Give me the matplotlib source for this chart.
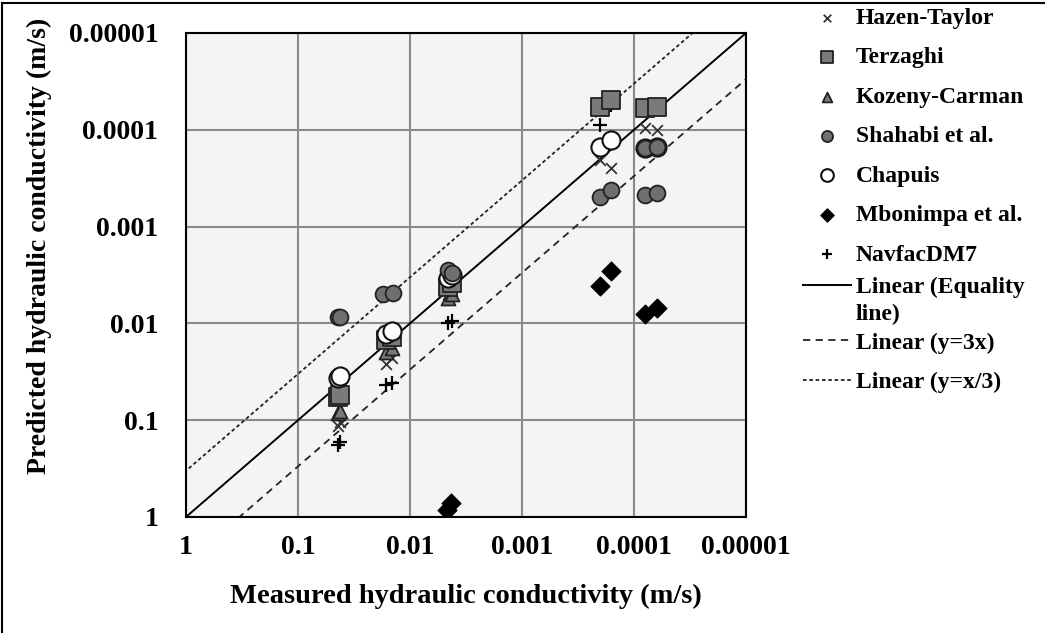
import matplotlib.pyplot as plt
from matplotlib.lines import Line2D
from matplotlib.transforms import IdentityTransform
import numpy as np

plt.rcParams['font.family'] = 'Liberation Serif'
plt.rcParams['font.weight'] = 'bold'
plt.rcParams['axes.labelweight'] = 'bold'

# measured K (m/s), two samples per soil group
measured = [0.044, 0.042, 0.0165, 0.0145, 0.0046, 0.0042, 0.0002, 0.00016, 8.0e-5, 6.3e-5]

hazen = [0.115, 0.105, 0.026, 0.023, 0.0050, 0.0046, 0.000205, 0.000248, 9.6e-5, 0.0001]
terzaghi = [0.058, 0.055, 0.0150, 0.0140, 0.0042, 0.0038, 5.8e-5, 4.9e-5, 6.0e-5, 5.8e-5]
kozeny = [0.085, 0.080, 0.020, 0.018, 0.0055, 0.0050, 6.0e-5, 5.0e-5, 6.0e-5, 5.9e-5]
chapuis = [0.0366, 0.035, 0.0128, 0.012, 0.0034, 0.0032, 0.000151, 0.000127, 0.000154, 0.00015]
navfac = [0.18, 0.17, 0.043, 0.041, 0.0099, 0.0095, 8.9e-5, 5.5e-5, 6.2e-5, 6.0e-5]

shahabi_x = [0.044, 0.042, 0.0175, 0.0142, 0.0046, 0.0042, 0.0002, 0.00016, 8.0e-5, 6.3e-5, 8.0e-5, 6.3e-5]
shahabi = [0.0086, 0.0086, 0.0050, 0.0049, 0.0028, 0.0030, 0.00049, 0.00042, 0.000154, 0.00015, 0.00047, 0.00045]

mbonimpa_x = [0.0047, 0.0043, 0.0002, 0.00016, 8.0e-5, 6.3e-5]
mbonimpa = [0.85, 0.72, 0.0041, 0.0029, 0.0080, 0.0069]

ratios = [1, 3, 1/3]
ticks = [1, 0.1, 0.01, 0.001, 0.0001, 0.00001]
tick_labels = ['1', '0.1', '0.01', '0.001', '0.0001', '0.00001']

fig = plt.figure(figsize=(10.45, 6.33), dpi=100)
ax = fig.add_axes([0.178, 0.1833, 0.536, 0.7647])
ax.set_facecolor('#f4f4f4')

xl = np.array([10, 1e-6])
ax.plot(xl, xl * ratios[0], color='black', lw=1.4, label='Linear (Equality', zorder=2)
ax.plot(xl, xl * ratios[1], color='#222222', lw=1.3, ls=(0, (4, 3)), label='Linear (y=3x)', zorder=2)
ax.plot(xl, xl * ratios[2], color='#222222', lw=1.3, ls=(0, (2, 1.5)), label='Linear (y=x/3)', zorder=2)

ax.scatter(measured, hazen, marker='x', s=60, color='#333333', linewidths=1.3, label='Hazen-Taylor', zorder=3)
ax.scatter(measured, kozeny, marker='^', s=100, facecolor='#7a7a7a', edgecolor='#222222', linewidths=1.3, label='Kozeny-Carman', zorder=3)
ax.scatter(measured, terzaghi, marker='s', s=150, facecolor='#7a7a7a', edgecolor='#222222', linewidths=1.3, label='Terzaghi', zorder=3)
ax.scatter(measured, chapuis, marker='o', s=170, facecolor='white', edgecolor='#111111', linewidths=1.5, label='Chapuis', zorder=3)
ax.scatter(shahabi_x, shahabi, marker='o', s=130, facecolor='#6f6f6f', edgecolor='#222222', linewidths=1.3, label='Shahabi et al.', zorder=4)
ax.scatter(mbonimpa_x, mbonimpa, marker='D', s=90, color='black', label='Mbonimpa et al.', zorder=3)
ax.scatter(measured, navfac, marker='+', s=110, color='black', linewidths=1.6, label='NavfacDM7', zorder=2.5)

ax.set_xscale('log')
ax.set_yscale('log')
ax.set_xlim(1, 1e-5)
ax.set_ylim(1, 1e-5)
ax.set_xticks(ticks, tick_labels)
ax.set_yticks(ticks, tick_labels)
ax.minorticks_off()
ax.tick_params(length=0, labelsize=20)
ax.tick_params(axis='x', pad=13)
ax.tick_params(axis='y', pad=20)
ax.grid(True, color='#8a8a8a', lw=1.5)
ax.set_axisbelow(True)
for s in ax.spines.values():
    s.set_linewidth(1.5)

ax.set_xlabel('Measured hydraulic conductivity (m/s)', fontsize=20.5, labelpad=17)
ax.set_ylabel('Predicted hydraulic conductivity (m/s)', fontsize=20)
ax.yaxis.set_label_coords(-0.24, 0.56)

h, l = ax.get_legend_handles_labels()
hd = dict(zip(l, h))
marker_order = ['Hazen-Taylor', 'Terzaghi', 'Kozeny-Carman', 'Shahabi et al.', 'Chapuis',
                'Mbonimpa et al.', 'NavfacDM7']
leg_kw = dict(loc='upper left', frameon=False, fontsize=17, handlelength=2.05,
              handletextpad=0.2, borderpad=0, borderaxespad=0, labelspacing=0.76)
fig.legend([hd[k] for k in marker_order], marker_order, bbox_to_anchor=(0.768, 0.9885),
           scatterpoints=1, markerscale=0.7, **leg_kw)
leg_eq = fig.legend([hd['Linear (Equality']], ['Linear (Equality'],
                    bbox_to_anchor=(0.768, 0.5625), **leg_kw)
fig.legend([hd['Linear (y=3x)'], hd['Linear (y=x/3)']], ['Linear (y=3x)', 'Linear (y=x/3)'],
           bbox_to_anchor=(0.768, 0.4755), **leg_kw)

# the equality label wraps onto a second line in the original
fig.canvas.draw()
bb = leg_eq.get_texts()[0].get_window_extent()
fig.text(bb.x0, (bb.y0 + bb.y1) / 2 - 27, 'line)', transform=IdentityTransform(),
         ha='left', va='center', fontsize=17, fontweight='bold')

# figure frame (top and left edges visible in the original)
fig.add_artist(Line2D([0.002, 1], [0.995, 0.995], color='black', lw=1.5))
fig.add_artist(Line2D([0.002, 0.002], [0, 0.995], color='black', lw=1.5))

plt.savefig('out.png', dpi=100)
